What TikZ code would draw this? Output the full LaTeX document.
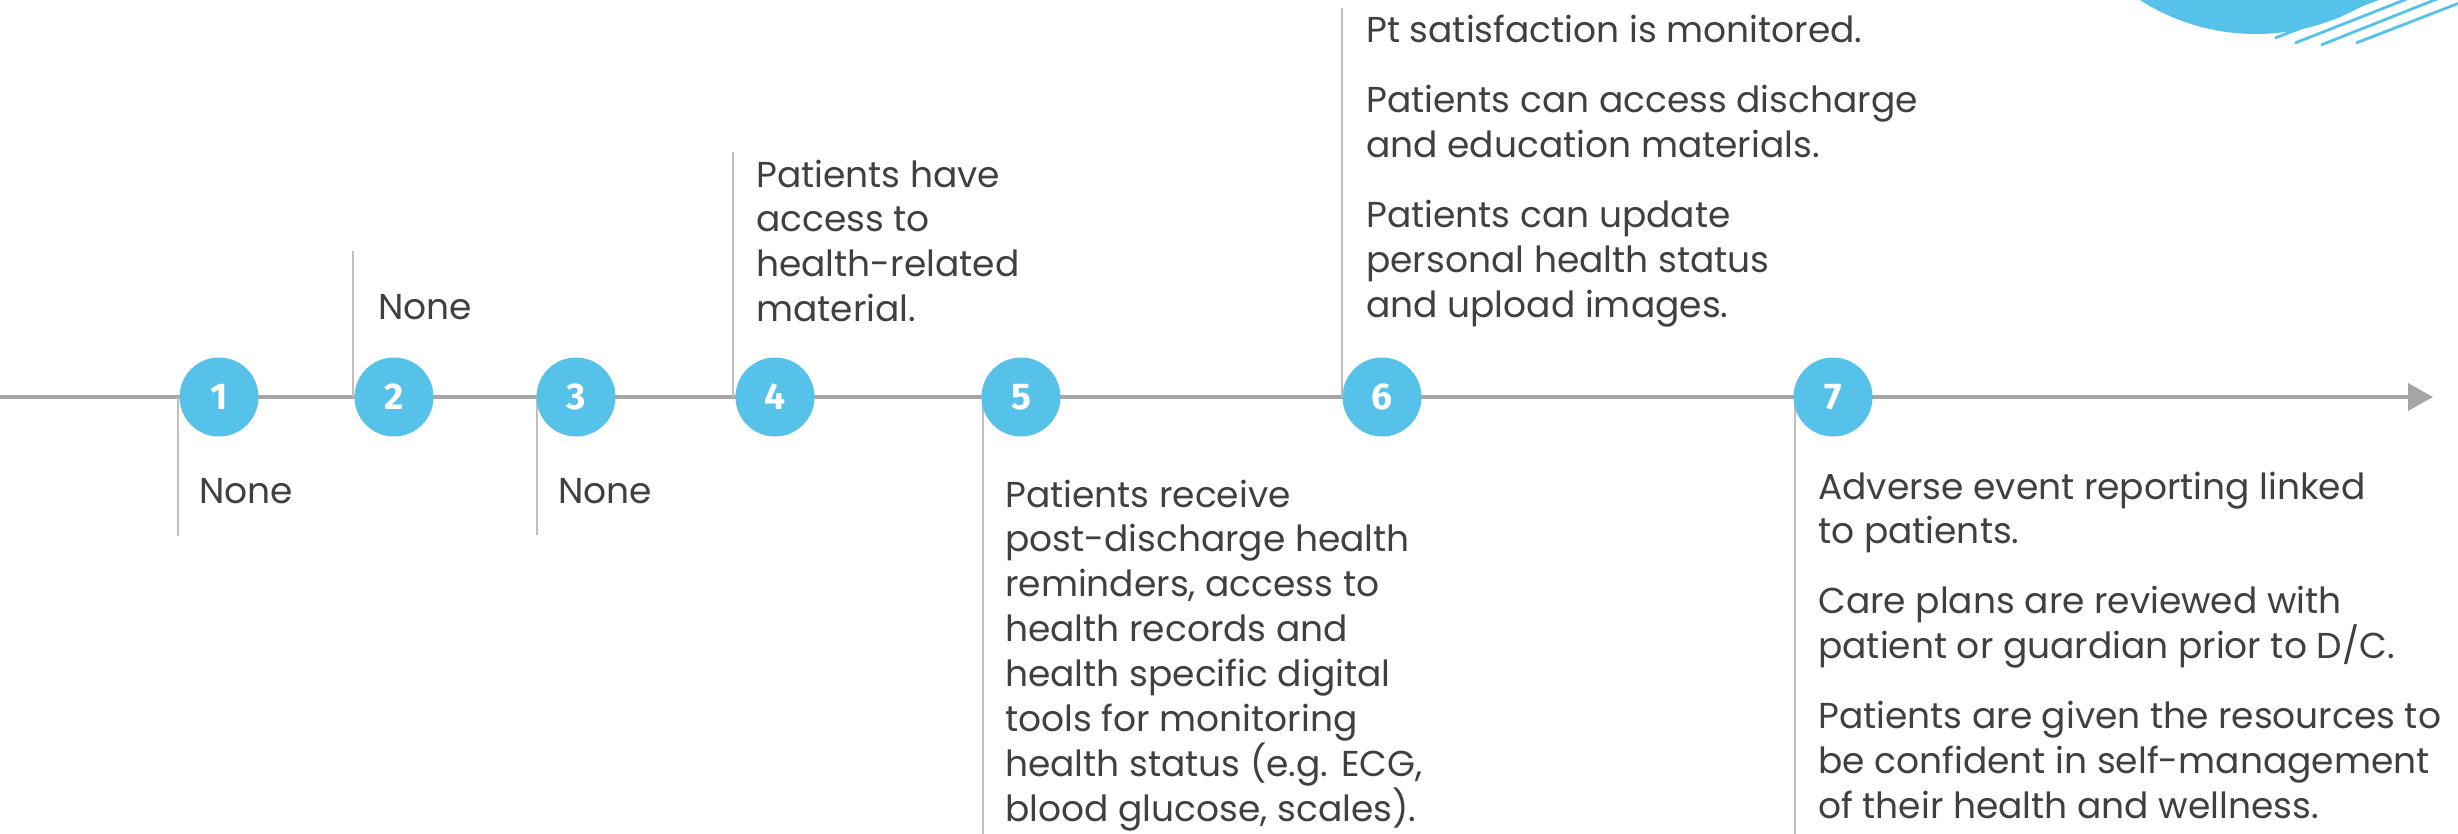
\documentclass[tikz,border=0pt]{standalone}
\usepackage{fontspec}
\setmainfont{Poppins}
\newfontfamily\numfont{Fira Sans}
\usetikzlibrary{arrows.meta}
\definecolor{circblue}{HTML}{56C1E9}
\definecolor{axisgray}{HTML}{A6A6A6}
\definecolor{tickgray}{HTML}{BFBFBF}
\definecolor{txtgray}{HTML}{404040}
\newcommand\txtline[1]{\hbox{#1}}
\newcommand\pgap{\vskip 6.25mm}
\begin{document}
\begin{tikzpicture}[x=0.25mm,y=-0.25mm,
  stepcirc/.style={circle,fill=circblue,minimum size=19.75mm,inner sep=0pt,text=white,
    font=\numfont\bfseries\fontsize{26.5pt}{26.5pt}\selectfont},
  desc/.style={anchor=base west,inner sep=0pt,text=txtgray,
    font=\fontsize{25.6pt}{32pt}\selectfont},
  tickline/.style={draw=tickgray,line width=0.5mm},
  axisline/.style={draw=axisgray,line width=1mm,-{Triangle[length=6.25mm,width=6.75mm]}},
  stripe/.style={draw=circblue,line width=0.7mm}]
\useasboundingbox (0,0) rectangle (2458,834);
\clip (0,0) rectangle (2458,834);
% decoration
\fill[circblue] (2256,-181) circle (215);
\draw[stripe] (2275,38) -- (2388,-5);
\draw[stripe] (2295,43) -- (2417,-5);
\draw[stripe] (2321,45) -- (2447,-5);
\draw[stripe] (2356,43) -- (2480,-5);
% axis
\coordinate (axs) at (0,397);
\coordinate (axe) at (2433,397);
\draw[axisline] (axs) -- (axe);
% ticks
\coordinate (t1a) at (178,397);  \coordinate (t1b) at (178,536);
\coordinate (t2a) at (353,251);  \coordinate (t2b) at (353,397);
\coordinate (t3a) at (537,397);  \coordinate (t3b) at (537,535);
\coordinate (t4a) at (733,152);  \coordinate (t4b) at (733,397);
\coordinate (t5a) at (983,397);  \coordinate (t5b) at (983,834);
\coordinate (t6a) at (1342,8);   \coordinate (t6b) at (1342,397);
\coordinate (t7a) at (1795,397); \coordinate (t7b) at (1795,834);
\draw[tickline] (t1a) -- (t1b);
\draw[tickline] (t2a) -- (t2b);
\draw[tickline] (t3a) -- (t3b);
\draw[tickline] (t4a) -- (t4b);
\draw[tickline] (t5a) -- (t5b);
\draw[tickline] (t6a) -- (t6b);
\draw[tickline] (t7a) -- (t7b);
% circles
\node[stepcirc] (c1) at (219,397) {1};
\node[stepcirc] (c2) at (394,397) {2};
\node[stepcirc] (c3) at (576,397) {3};
\node[stepcirc] (c4) at (775,397) {4};
\node[stepcirc] (c5) at (1021,397) {5};
\node[stepcirc] (c6) at (1382,397) {6};
\node[stepcirc] (c7) at (1833,397) {7};
% texts
\node[desc] (d1) at (199,503) {None};
\node[desc] (d2) at (378,319) {None};
\node[desc] (d3) at (558,503) {None};
\node[desc] (d4) at (756,187) {\vtop{\txtline{Patients have}\txtline{access to}\txtline{health-related}\txtline{material.}}};
\node[desc] (d5) at (1005,507) {\vtop{\txtline{Patients receive}\txtline{post-discharge health}\txtline{reminders, access to}\txtline{health records and}\txtline{health specific digital}\txtline{tools for monitoring}\txtline{health status (e.g. ECG,}\txtline{blood glucose, scales).}}};
\node[desc] (d6) at (1366,43) {\vtop{\txtline{Pt satisfaction is monitored.}\pgap\txtline{Patients can access discharge}\txtline{and education materials.}\pgap\txtline{Patients can update}\txtline{personal health status}\txtline{and upload images.}}};
\node[desc] (d7) at (1818,499) {\vtop{\txtline{Adverse event reporting linked}\txtline{to patients.}\pgap\txtline{Care plans are reviewed with}\txtline{patient or guardian prior to D/C.}\pgap\txtline{Patients are given the resources to}\txtline{be confident in self-management}\txtline{of their health and wellness.}}};
\end{tikzpicture}
\end{document}
